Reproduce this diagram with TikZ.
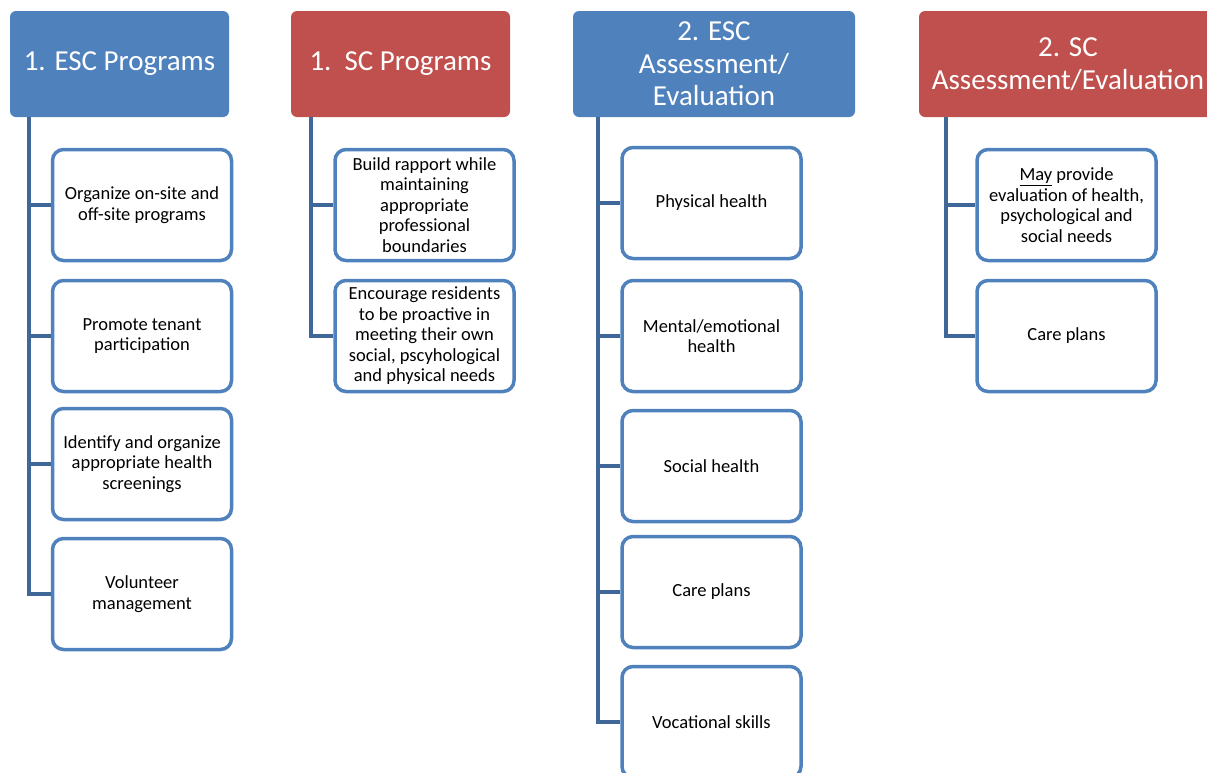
\documentclass[tikz,border=0pt]{standalone}
\usepackage{fontspec}
\setmainfont{Carlito}
\usetikzlibrary{calc}
\definecolor{escblue}{HTML}{4F81BD}
\definecolor{scred}{HTML}{C0504D}
\definecolor{linkblue}{HTML}{3F6898}

\begin{document}
\begin{tikzpicture}[x=1pt,y=-1pt,
    head/.style={rounded corners=6pt, text=white, align=center, inner sep=0pt,
        minimum height=106pt, font=\fontsize{29}{32.5}\selectfont},
    item/.style={draw=escblue, line width=3.5pt, rounded corners=11pt, fill=white,
        align=center, inner sep=0pt, minimum width=179pt, minimum height=111pt,
        font=\fontsize{18.5}{20.5}\selectfont},
    link/.style={draw=linkblue, line width=3.5pt}]
    \useasboundingbox (0,0) rectangle (1207,772);
    \clip (0,0) rectangle (1207,772);

    % headers
    \node[head, fill=escblue, minimum width=219pt] (h1) at (119.5,64) {1. ESC Programs};
    \node[head, fill=scred, minimum width=219pt] (h2) at (400.5,64) {1.\ \ SC Programs};
    \node[head, fill=escblue, minimum width=282pt] (h3) at (714,64) {2. ESC\\Assessment/\\Evaluation};
    \node[head, fill=scred, minimum width=298pt] (h4) at (1068,64) {2. SC\\Assessment/Evaluation};

    % ESC programs
    \node[item] (a1) at (142,205) {Organize on-site and\\off-site programs};
    \node[item] (a2) at (142,336) {Promote tenant\\participation};
    \node[item] (a3) at (142,464) {Identify and organize\\appropriate health\\screenings};
    \node[item] (a4) at (142,594) {Volunteer\\management};

    % SC programs
    \node[item] (b1) at (424.5,205) {Build rapport while\\maintaining\\appropriate\\professional\\boundaries};
    \node[item] (b2) at (424.5,336) {Encourage residents\\to be proactive in\\meeting their own\\social, pscyhological\\and physical needs};

    % ESC assessment
    \node[item] (c1) at (711.5,203) {Physical health};
    \node[item] (c2) at (711.5,336) {Mental/emotional\\health};
    \node[item] (c3) at (711.5,466) {Social health};
    \node[item] (c4) at (711.5,592) {Care plans};
    \node[item] (c5) at (711.5,722) {Vocational skills};

    % SC assessment
    \node[item] (d1) at (1066.5,205) {\underline{May} provide\\evaluation of health,\\psychological and\\social needs};
    \node[item] (d2) at (1066.5,336) {Care plans};

    % connectors
    \coordinate (s1) at ($(h1.south west)+(19,0)$);
    \coordinate (s2) at ($(h2.south west)+(20,0)$);
    \coordinate (s3) at ($(h3.south west)+(25,0)$);
    \coordinate (s4) at ($(h4.south west)+(27,0)$);
    \draw[link] (s1) |- (a4.west);
    \foreach \k in {1,2,3} \draw[link] (s1 |- a\k.west) -- (a\k.west);
    \draw[link] (s2) |- (b2.west);
    \draw[link] (s2 |- b1.west) -- (b1.west);
    \draw[link] (s3) |- (c5.west);
    \foreach \k in {1,2,3,4} \draw[link] (s3 |- c\k.west) -- (c\k.west);
    \draw[link] (s4) |- (d2.west);
    \draw[link] (s4 |- d1.west) -- (d1.west);
\end{tikzpicture}
\end{document}
